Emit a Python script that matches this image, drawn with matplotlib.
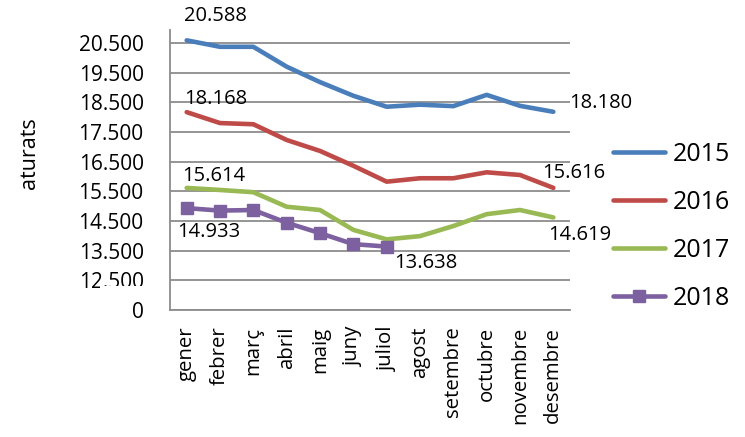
import numpy as np
import matplotlib
matplotlib.use('Agg')
import matplotlib.pyplot as plt
from matplotlib.patches import Rectangle

plt.rcParams['font.family'] = ['Open Sans', 'DejaVu Sans']

# ============================================================
# data
# ============================================================
mesos = ['gener', 'febrer', 'març', 'abril', 'maig', 'juny', 'juliol',
         'agost', 'setembre', 'octubre', 'novembre', 'desembre']
a2015 = [20588, 20370, 20370, 19700, 19180, 18720, 18350, 18420, 18370, 18750, 18380, 18180]
a2016 = [18168, 17800, 17760, 17230, 16860, 16360, 15825, 15940, 15940, 16140, 16050, 15616]
a2017 = [15614, 15545, 15470, 14980, 14870, 14200, 13880, 13990, 14330, 14730, 14870, 14619]
a2018 = [14933, 14850, 14870, 14440, 14090, 13720, 13638]
yticks = [11500, 12500, 13500, 14500, 15500, 16500, 17500, 18500, 19500, 20500]
ytick_labels = ['0', '12.500', '13.500', '14.500', '15.500', '16.500',
                '17.500', '18.500', '19.500', '20.500']

# (series, index, offset px)
etiquetes = [
    (a2015, 0, (-3, 24)),
    (a2015, 11, (16, 9)),
    (a2016, 0, (-3, 13)),
    (a2016, 11, (-11, 15)),
    (a2017, 0, (-5, 12)),
    (a2017, 11, (-5, -18)),
    (a2018, 0, (-10, -24)),
    (a2018, 6, (8, -16)),
]

fig = plt.figure(figsize=(7.45, 4.37), dpi=100)
ax = fig.add_axes([0.2282, 0.2906, 0.5369, 0.6417])

x = np.arange(len(mesos))
ax.plot(x, a2015, color='#4A7EBB', lw=3.3, label='2015', solid_capstyle='round')
ax.plot(x, a2016, color='#BE4B48', lw=3.3, label='2016', solid_capstyle='round')
ax.plot(x, a2017, color='#98B954', lw=3.3, label='2017', solid_capstyle='round')
ax.plot(x[:len(a2018)], a2018, color='#7D60A0', lw=3.3, marker='s', ms=8.5,
        label='2018', solid_capstyle='round')

for serie, i, off in etiquetes:
    ax.annotate(f"{serie[i]/1000:.3f}", (x[i], serie[i]), xytext=off,
                textcoords='offset pixels', ha='left', va='center', fontsize=14.5)

ax.set_xlim(-0.5, 11.5)
ax.set_ylim(11500, 20950)
ax.set_yticks(yticks)
ax.set_yticklabels(ytick_labels, fontsize=15)
ax.set_xticks(x)
ax.set_xticklabels(mesos, rotation=90, fontsize=14.7, va='top')
ax.tick_params(axis='y', length=0, pad=19)
ax.tick_params(axis='x', length=0, pad=12)
ax.grid(axis='y', color='#8c8c8c', lw=1.3)
ax.set_axisbelow(True)
for s in ['top', 'right']:
    ax.spines[s].set_visible(False)
for s in ['left', 'bottom']:
    ax.spines[s].set_color('#8c8c8c')
    ax.spines[s].set_linewidth(1.3)

fig.text(0.04, 0.65, 'aturats', rotation=90, ha='center', va='center', fontsize=15.5)

# break: hide the bottom of the 12.500 label
fig.add_artist(Rectangle((100/745, (437-300)/437), 50/745, 14/437,
                         transform=fig.transFigure, facecolor='white',
                         edgecolor='none', zorder=10))

ax.legend(loc='center left', bbox_to_anchor=(0.793, 0.4817), bbox_transform=fig.transFigure,
          frameon=False, fontsize=18, handlelength=2.08, handletextpad=0.28,
          labelspacing=0.92)

fig.savefig('out.png', dpi=100)
